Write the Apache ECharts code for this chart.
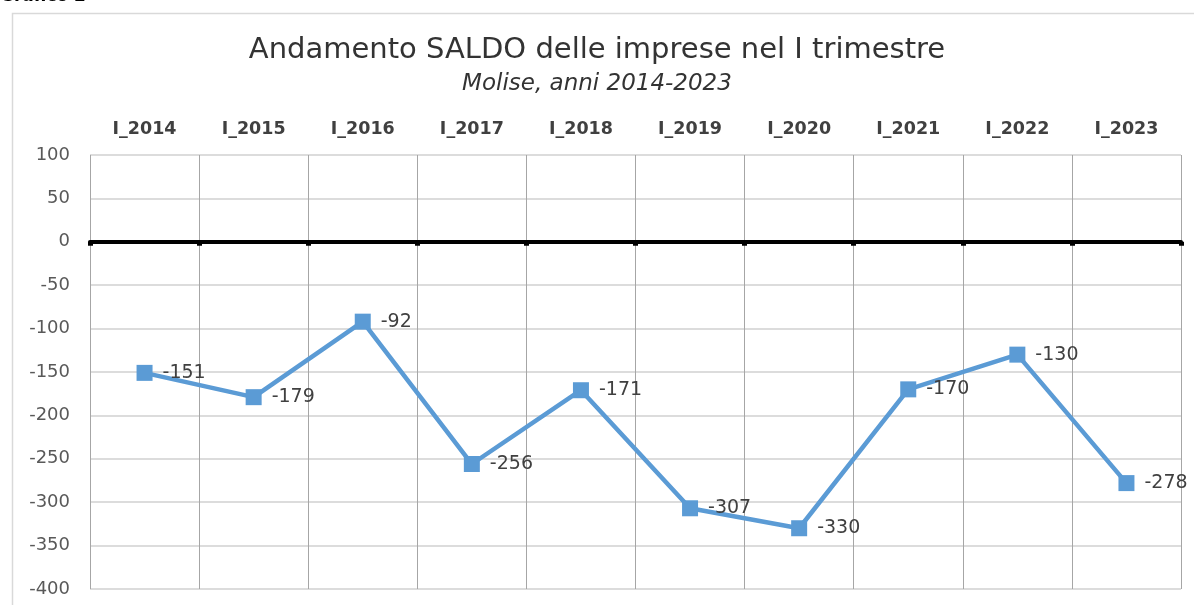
<!DOCTYPE html>
<html>
<head>
<meta charset="utf-8">
<script src="https://cdn.jsdelivr.net/npm/echarts@6/dist/echarts.min.js"></script>
<style>
html,body{margin:0;padding:0;background:#fff;}
#c{width:1194px;height:605px;}
</style>
</head>
<body>
<div id="c"></div>
<script>
const categories = ['I_2014','I_2015','I_2016','I_2017','I_2018','I_2019','I_2020','I_2021','I_2022','I_2023'];
const saldo = [-151,-179,-92,-256,-171,-307,-330,-170,-130,-278];
const yMin = -400, yMax = 100, yStep = 50;

const chart = echarts.init(document.getElementById('c'));
const fontFam = '"DejaVu Sans", "Open Sans", sans-serif';
chart.setOption({
  animation: false,
  backgroundColor: '#fff',
  graphic: [
    {type:'rect', left: 10, top: 11, shape:{width:1200, height:620}, style:{fill:'none', stroke:'#d9d9d9', lineWidth:1.5}, z: -1},
    {type:'text', left: 0, top: -12, style:{text:'Grafico 2', font:'bold 17px "DejaVu Sans", sans-serif', fill:'#000'}}
  ],
  title: {
    text: 'Andamento SALDO delle imprese nel I trimestre',
    subtext: 'Molise, anni 2014-2023',
    left: 'center', top: 31,
    textStyle: {fontFamily: fontFam, fontSize: 29, fontWeight: 'normal', color: '#333'},
    subtextStyle: {fontFamily: fontFam, fontSize: 23, fontStyle: 'italic', color: '#333'},
    itemGap: 8
  },
  grid: {left: 90, right: 13, top: 155, bottom: 16},
  xAxis: [
    {
      type: 'category', data: categories, position: 'top', boundaryGap: true,
      axisLine: {show: false, onZero: false}, axisTick: {show: false},
      axisLabel: {fontFamily: fontFam, fontSize: 17.5, fontWeight: 'bold', color: '#404040', margin: 17},
      splitLine: {show: true, lineStyle: {color: '#a6a6a6', width: 1}}
    },
    {
      type: 'category', data: categories, position: 'bottom', boundaryGap: true,
      axisLine: {show: true, onZero: true, lineStyle: {color: '#000', width: 4}},
      axisTick: {show: true, length: 4, inside: false, lineStyle: {color: '#000', width: 5}},
      axisLabel: {show: false}, splitLine: {show: false}
    }
  ],
  yAxis: {
    type: 'value', min: yMin, max: yMax, interval: yStep,
    axisLine: {show: false}, axisTick: {show: false},
    axisLabel: {fontFamily: fontFam, fontSize: 18, color: '#595959', margin: 20},
    splitLine: {show: true, lineStyle: {color: '#d0d0d0', width: 1.5}}
  },
  series: [{
    type: 'line', data: saldo, xAxisIndex: 0,
    symbol: 'rect', symbolSize: 16,
    lineStyle: {color: '#5b9bd5', width: 4.5},
    itemStyle: {color: '#5b9bd5'},
    label: {show: true, position: 'right', distance: 10, fontFamily: fontFam, fontSize: 19, color: '#404040'},
    z: 5
  }]
});
</script>
</body>
</html>
